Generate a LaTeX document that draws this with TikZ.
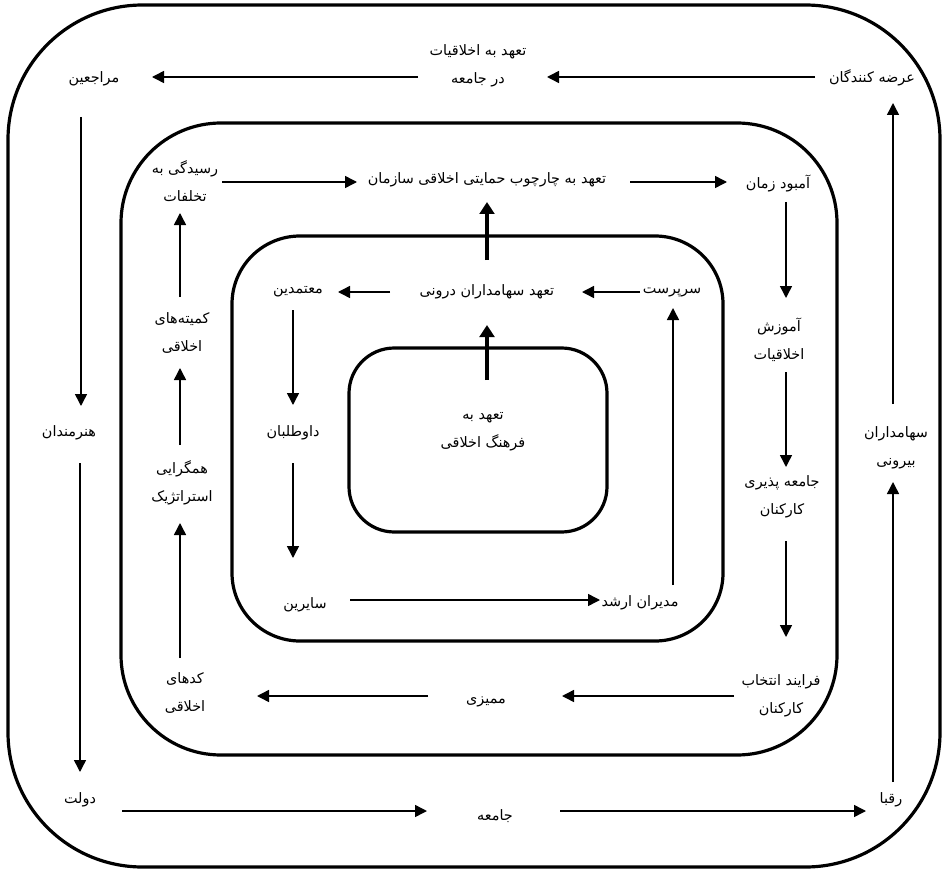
\documentclass[tikz,border=0pt]{standalone}
\usepackage{fontspec}
\setmainfont{DejaVu Sans}
\newfontfamily\fa[Script=Arabic]{DejaVu Sans}
\TeXXeTstate=1
\usetikzlibrary{arrows.meta}
\newcommand\RL[1]{\beginR #1\endR}
\tikzset{
  lbl/.style={font=\fa\fontsize{10.8}{21}\selectfont, align=center, inner sep=0pt},
  box/.style={line width=2.4pt},
  arr/.style={line width=1.1pt, -{Triangle[length=9pt,width=9pt]}},
  thk/.style={line width=3pt, -{Triangle[length=9pt,width=11pt]}}
}
\begin{document}
\begin{tikzpicture}[x=0.75pt, y=-0.75pt]
\useasboundingbox (0,0) rectangle (946,870);
% frames
\draw[box, rounded corners=101pt] (8,5) rectangle (940,867);
\draw[box, rounded corners=75pt] (121,123) rectangle (837,755);
\draw[box, rounded corners=51pt] (232,236) rectangle (723,641);
\draw[box, rounded corners=34pt] (349,348) rectangle (607,532);
% row / column guides
\coordinate (r77) at (0,77);
\coordinate (r811) at (0,811);
\coordinate (r182) at (0,182);
\coordinate (r696) at (0,696);
\coordinate (r292) at (0,292);
\coordinate (r600) at (0,600);
\coordinate (c81) at (81,0);
\coordinate (c80) at (80,0);
\coordinate (c893) at (893,0);
\coordinate (c786) at (786,0);
\coordinate (c180) at (180,0);
\coordinate (c293) at (293,0);
\coordinate (c673) at (673,0);
\coordinate (c487) at (487,0);
% outer ring
\node[lbl] (N1) at (872,78) {\RL{عرضه کنندگان}};
\node[lbl] (N2) at (478,66) {\RL{تعهد به اخلاقیات}\\\RL{در جامعه}};
\node[lbl] (N3) at (94,79) {\RL{مراجعین}};
\node[lbl] (N4) at (69,433) {\RL{هنرمندان}};
\node[lbl] (N5) at (80,800) {\RL{دولت}};
\node[lbl] (N6) at (495,816) {\RL{جامعه}};
\node[lbl] (N7) at (891,800) {\RL{رقبا}};
\node[lbl] (N8) at (896,448) {\RL{سهامداران}\\\RL{بیرونی}};
% second ring
\node[lbl] (M1) at (185,181) {\RL{رسیدگی به}\\\RL{تخلفات}};
\node[lbl] (M2) at (487,180) {\RL{تعهد به چارچوب حمایتی اخلاقی سازمان}};
\node[lbl] (M3) at (778,183) {\RL{آمبود زمان}};
\node[lbl] (M4) at (779,340) {\RL{آموزش}\\\RL{اخلاقیات}};
\node[lbl] (M5) at (782,497) {\RL{جامعه پذیری}\\\RL{کارکنان}};
\node[lbl] (M6) at (781,696) {\RL{فرایند انتخاب}\\\RL{کارکنان}};
\node[lbl] (M7) at (486,702) {\RL{ممیزی}};
\node[lbl] (M8) at (185,693) {\RL{کدهای}\\\RL{اخلاقی}};
\node[lbl] (M9) at (182,483) {\RL{همگرایی}\\\RL{استراتژیک}};
\node[lbl] (M10) at (182,333) {\RL{کمیته‌های}\\\RL{اخلاقی}};
% third ring
\node[lbl] (T1) at (487,292) {\RL{تعهد سهامداران درونی}};
\node[lbl] (T2) at (298,292) {\RL{معتمدین}};
\node[lbl] (T3) at (293,433) {\RL{داوطلبان}};
\node[lbl] (T4) at (305,605) {\RL{سایرین}};
\node[lbl] (T5) at (640,603) {\RL{مدیران ارشد}};
\node[lbl] (T6) at (672,292) {\RL{سرپرست}};
% centre
\node[lbl] (C1) at (483,432) {\RL{تعهد به}\\\RL{فرهنگ اخلاقی}};
% outer arrows
\draw[arr, shorten <=42.75pt, shorten >=51.75pt] (N1 |- r77) -- (N2 |- r77);
\draw[arr, shorten <=45pt, shorten >=43.5pt] (N2 |- r77) -- (N3 |- r77);
\draw[arr, shorten <=28.5pt, shorten >=20.25pt] (c81 |- N3) -- (c81 |- N4);
\draw[arr, shorten <=22.5pt, shorten >=21pt] (c80 |- N4) -- (c80 |- N5);
\draw[arr, shorten <=31.5pt, shorten >=51pt] (N5 |- r811) -- (N6 |- r811);
\draw[arr, shorten <=48.75pt, shorten >=18.75pt] (N6 |- r811) -- (N7 |- r811);
\draw[arr, shorten <=13.5pt, shorten >=25.5pt] (c893 |- N7) -- (c893 |- N8);
\draw[arr, shorten <=33pt, shorten >=18.75pt] (c893 |- N8) -- (c893 |- N1);
% second ring arrows
\draw[arr, shorten <=27.75pt, shorten >=97.5pt] (M1 |- r182) -- (M2 |- r182);
\draw[arr, shorten <=107.25pt, shorten >=38.25pt] (M2 |- r182) -- (M3 |- r182);
\draw[arr, shorten <=14.25pt, shorten >=31.5pt] (c786 |- M3) -- (c786 |- M4);
\draw[arr, shorten <=24pt, shorten >=22.5pt] (c786 |- M4) -- (c786 |- M5);
\draw[arr, shorten <=33pt, shorten >=44.25pt] (c786 |- M5) -- (c786 |- M6);
\draw[arr, shorten <=35.25pt, shorten >=57pt] (M6 |- r696) -- (M7 |- r696);
\draw[arr, shorten <=43.5pt, shorten >=54pt] (M7 |- r696) -- (M8 |- r696);
\draw[arr, shorten <=26.25pt, shorten >=30pt] (c180 |- M8) -- (c180 |- M9);
\draw[arr, shorten <=28.5pt, shorten >=26.25pt] (c180 |- M9) -- (c180 |- M10);
\draw[arr, shorten <=27pt, shorten >=24pt] (c180 |- M10) -- (c180 |- M1);
% third ring arrows
\draw[arr, shorten <=24pt, shorten >=71.25pt] (T6 |- r292) -- (T1 |- r292);
\draw[arr, shorten <=72.75pt, shorten >=30pt] (T1 |- r292) -- (T2 |- r292);
\draw[arr, shorten <=13.5pt, shorten >=21pt] (c293 |- T2) -- (c293 |- T3);
\draw[arr, shorten <=22.5pt, shorten >=35.25pt] (c293 |- T3) -- (c293 |- T4);
\draw[arr, shorten <=33.75pt, shorten >=30pt] (T4 |- r600) -- (T5 |- r600);
\draw[arr, shorten <=13.5pt, shorten >=12pt] (c673 |- T5) -- (c673 |- T6);
% thick arrows
\draw[thk, shorten <=39pt, shorten >=24.75pt] (c487 |- C1) -- (c487 |- T1);
\draw[thk, shorten <=24pt, shorten >=16.5pt] (c487 |- T1) -- (c487 |- M2);
\end{tikzpicture}
\end{document}
